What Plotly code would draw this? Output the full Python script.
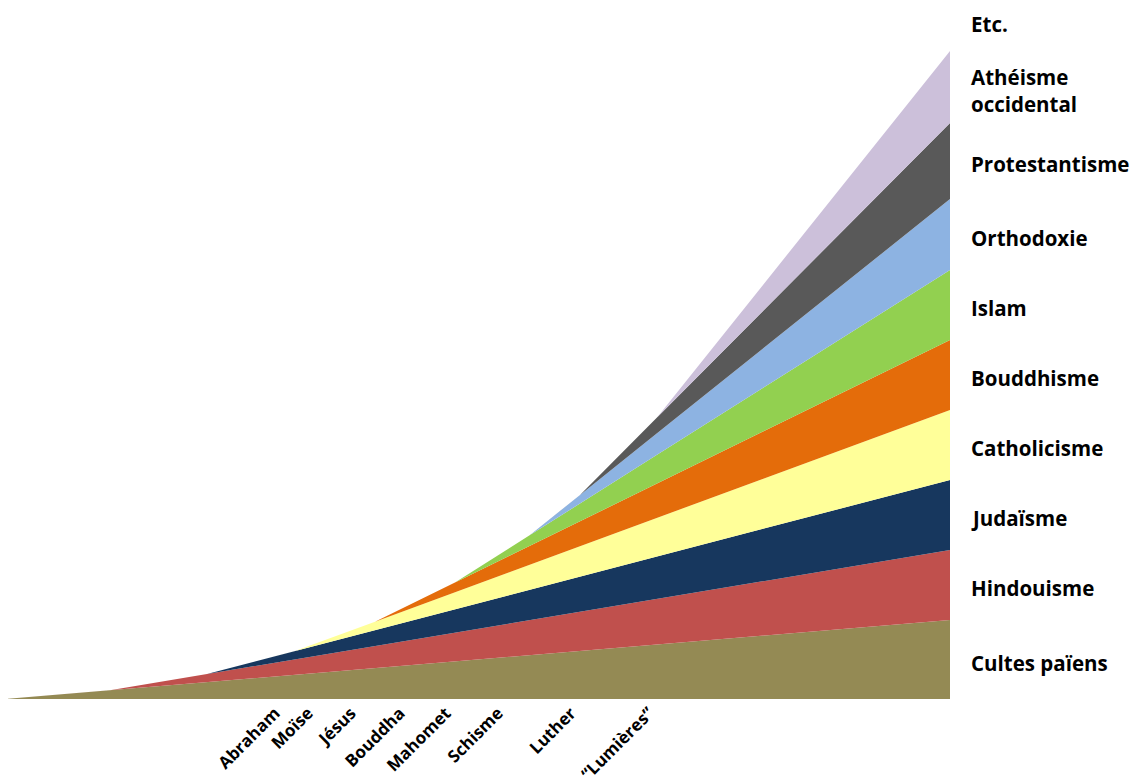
import plotly.graph_objects as go

# time points (arbitrary units along the timeline)
t = [0, 105, 202, 290, 370, 450, 525, 575, 652, 945]

series_names = ["Cultes païens", "Hindouisme", "Judaïsme", "Catholicisme", "Bouddhisme",
                "Islam", "Orthodoxie", "Protestantisme", "Athéisme<br>occidental"]
cultes_paiens  = [0, 8.8, 16.9, 24.2, 30.9, 37.6, 43.9, 48.1, 54.5, 79]
hindouisme     = [0, 0, 8.1, 15.4, 22.1, 28.8, 35.0, 39.2, 45.6, 70]
judaisme       = [0, 0, 0, 8.3, 15.8, 23.3, 30.4, 35.1, 42.4, 70]
catholicisme   = [0, 0, 0, 0, 8.5, 17.1, 25.1, 30.5, 38.7, 70]
bouddhisme     = [0, 0, 0, 0, 0, 9.7, 18.9, 25.0, 34.4, 70]
islam          = [0, 0, 0, 0, 0, 0, 10.6, 17.7, 28.6, 70]
orthodoxie     = [0, 0, 0, 0, 0, 0, 0, 8.5, 21.5, 71]
protestantisme = [0, 0, 0, 0, 0, 0, 0, 0, 15.8, 76]
atheisme       = [0, 0, 0, 0, 0, 0, 0, 0, 0, 72]
etc_label = "Etc."

colors = ["#948A54", "#C0504D", "#17375E", "#FFFF99", "#E46C0A",
          "#92D050", "#8DB3E2", "#595959", "#CCC0DA"]

event_ticks = [270, 303, 346, 395, 441, 493, 566, 644]
event_labels = ["Abraham", "Moïse", "Jésus", "Bouddha", "Mahomet", "Schisme", "Luther", "“Lumières”"]

all_series = [cultes_paiens, hindouisme, judaisme, catholicisme, bouddhisme,
              islam, orthodoxie, protestantisme, atheisme]

fig = go.Figure()
for name, vals, col in zip(series_names, all_series, colors):
    fig.add_trace(go.Scatter(
        x=t, y=vals, name=name, mode="lines", stackgroup="one",
        line=dict(width=0, color=col), fillcolor=col, hoverinfo="skip"))

label_font = dict(family="Open Sans", size=20.5, color="#000000")
cum = 0
for name, vals in zip(series_names, all_series):
    mid = cum + vals[-1] / 2
    cum += vals[-1]
    fig.add_annotation(x=1, xref="paper", y=mid - 3, yref="y", text="<b>" + name + "</b>",
                       showarrow=False, xanchor="left", yanchor="middle", xshift=19,
                       align="left", font=label_font)
fig.add_annotation(x=1, xref="paper", y=cum + 27, yref="y", text="<b>" + etc_label + "</b>",
                   showarrow=False, xanchor="left", yanchor="middle", xshift=19,
                   align="left", font=label_font)

fig.update_layout(
    width=1132, height=768,
    margin=dict(l=0, r=190, t=0, b=77),
    paper_bgcolor="white", plot_bgcolor="white",
    showlegend=False,
    xaxis=dict(range=[3, 945], showgrid=False, zeroline=False, showline=False,
               tickmode="array", tickvals=event_ticks,
               ticktext=["<b>" + s + "</b>" for s in event_labels],
               tickangle=-45, ticks="", automargin=False,
               tickfont=dict(family="Open Sans", size=17, color="#000000")),
    yaxis=dict(range=[0, 691], visible=False, showgrid=False, zeroline=False),
)

fig.write_html("out.html")
